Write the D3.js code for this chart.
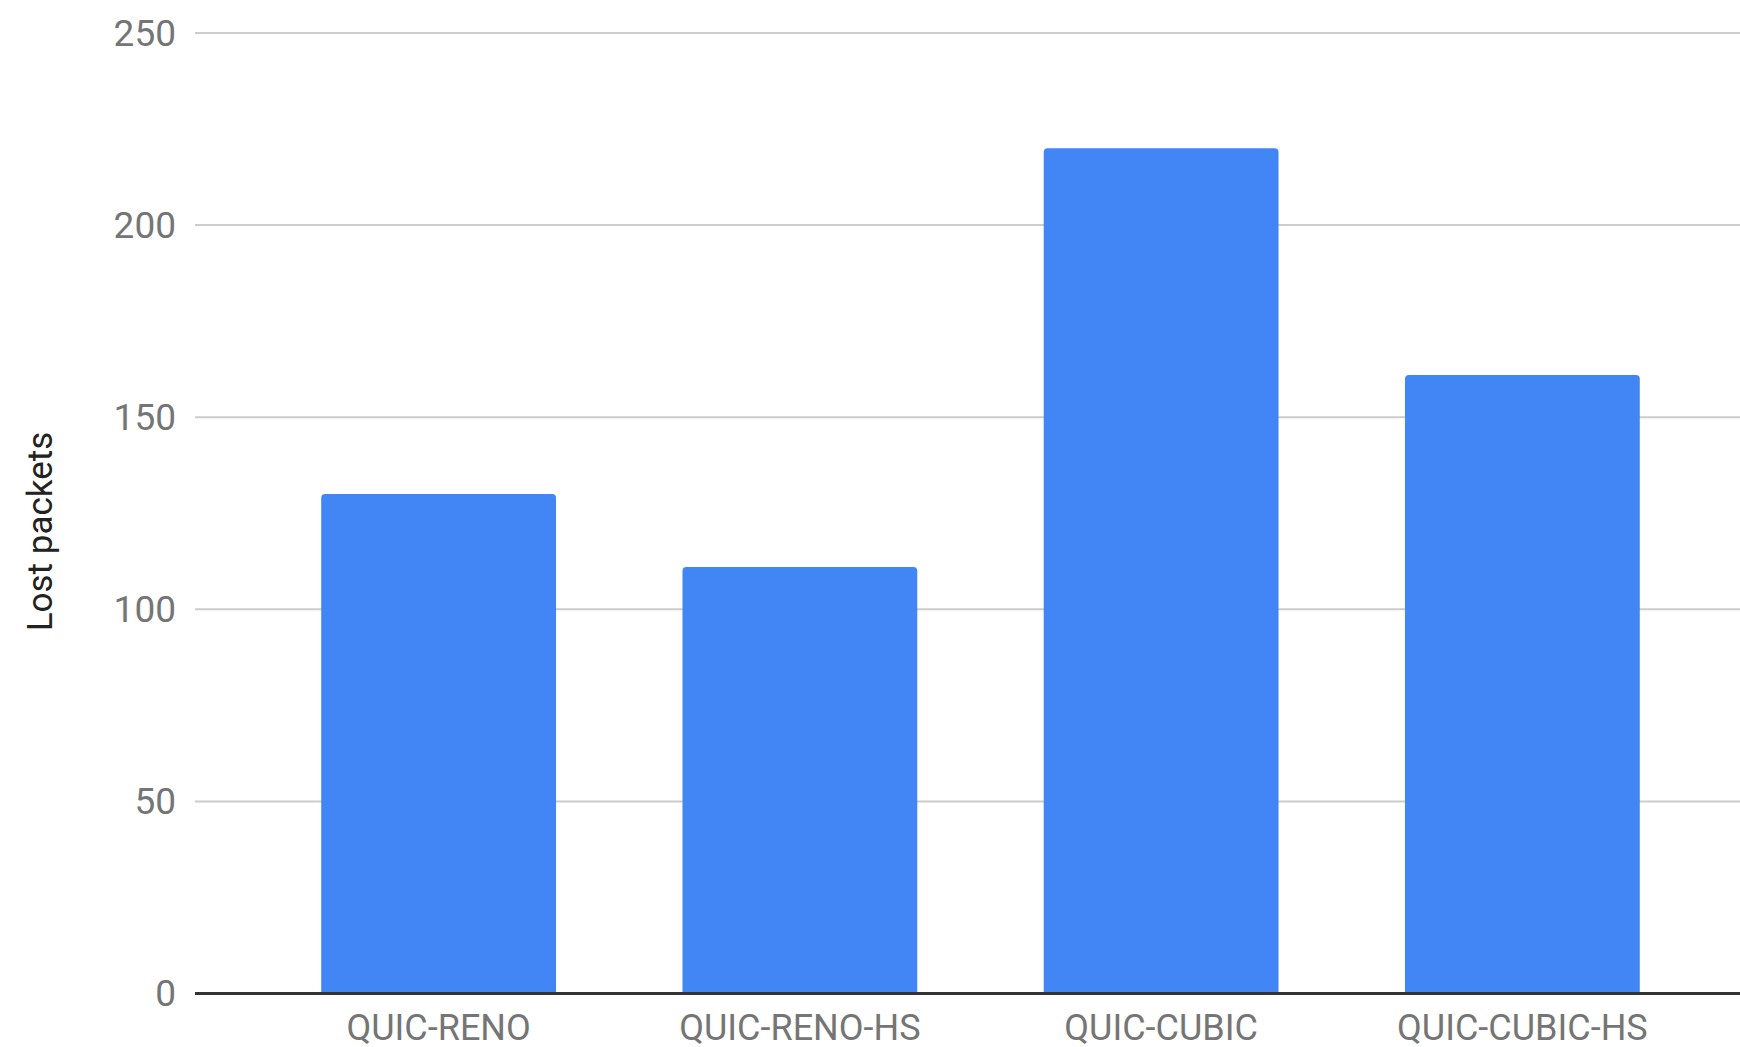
<!DOCTYPE html>
<html>
<head>
<meta charset="utf-8">
<script src="https://cdn.jsdelivr.net/npm/d3@7"></script>
<style>
  html, body { margin: 0; padding: 0; background: #fff; }
  svg { display: block; font-family: Roboto, "Noto Sans", sans-serif; }
</style>
</head>
<body>
<svg id="chart" width="1740" height="1047"></svg>
<script>
const categories = ["QUIC-RENO", "QUIC-RENO-HS", "QUIC-CUBIC", "QUIC-CUBIC-HS"];
const lostPackets = [130, 111, 220, 161];
const yTicks = [0, 50, 100, 150, 200, 250];
const yTitle = "Lost packets";

const W = 1740, H = 1047;
const svg = d3.select("#chart");

const x = d3.scaleBand().domain(categories).range([258, 1703])
  .paddingInner(0.35).paddingOuter(0.175);
const y = d3.scaleLinear().domain([0, 250]).range([993.5, 33]);

const gridLeft = 195, gridRight = W;

// gridlines
svg.append("g").selectAll("line").data(yTicks.filter(d => d !== 0)).join("line")
  .attr("x1", gridLeft).attr("x2", gridRight)
  .attr("y1", d => y(d)).attr("y2", d => y(d))
  .attr("stroke", "#cccccc").attr("stroke-width", 2);

// y tick labels via axis
const yAxis = d3.axisLeft(y).tickValues(yTicks).tickSize(0).tickPadding(0);
const gy = svg.append("g").attr("transform", "translate(176,0)").call(yAxis);
gy.select(".domain").remove();
gy.selectAll("text").attr("font-size", 37).attr("fill", "#757575")
  .attr("font-family", "Roboto, sans-serif").attr("dy", "0.33em");

// bars with rounded top corners
const r = 4;
svg.append("g").selectAll("path").data(categories).join("path")
  .attr("d", (c, i) => {
    const x0 = x(c), x1 = x(c) + x.bandwidth();
    const yt = y(lostPackets[i]), yb = y(0);
    return `M${x0},${yb}V${yt + r}Q${x0},${yt} ${x0 + r},${yt}H${x1 - r}Q${x1},${yt} ${x1},${yt + r}V${yb}Z`;
  })
  .attr("fill", "#4285f4");

// baseline
svg.append("line").attr("x1", gridLeft).attr("x2", gridRight)
  .attr("y1", y(0)).attr("y2", y(0))
  .attr("stroke", "#333333").attr("stroke-width", 3);

// x labels via axis
const xAxis = d3.axisBottom(x).tickSize(0).tickPadding(0);
const gx = svg.append("g").attr("transform", `translate(0,${y(0)})`).call(xAxis);
gx.select(".domain").remove();
gx.selectAll("text").attr("font-size", 36).attr("fill", "#757575")
  .attr("font-family", "Roboto, sans-serif").attr("dy", null).attr("y", 46);

// y title
svg.append("text")
  .attr("transform", "translate(51.5,531.5) rotate(-90)")
  .attr("text-anchor", "middle")
  .attr("font-size", 35).attr("fill", "#222222")
  .text(yTitle);
</script>
</body>
</html>
